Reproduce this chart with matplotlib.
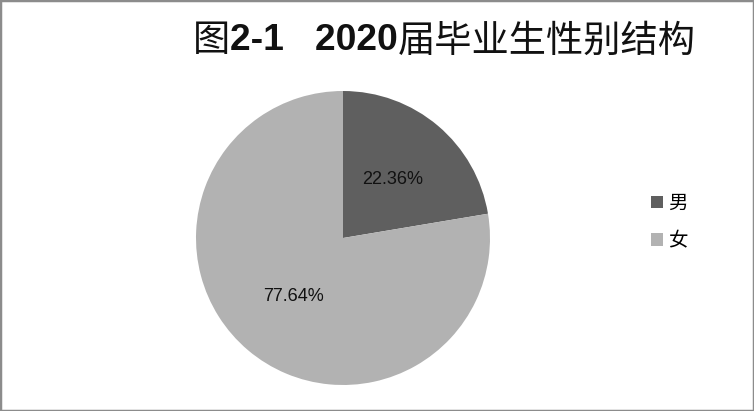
import matplotlib
matplotlib.use("Agg")
import matplotlib.pyplot as plt
from matplotlib.patches import Rectangle

categories = ["男", "女"]
values = [22.36, 77.64]
colors = ["#5f5f5f", "#b2b2b2"]
title_parts = ["图", "2-1   2020", "届毕业生性别结构"]

plt.rcParams['font.family'] = ['Noto Sans CJK SC', 'DejaVu Sans']

fig = plt.figure(figsize=(7.54, 4.11), dpi=100)
fig.patches.append(Rectangle((0, 0), 1, 1, transform=fig.transFigure,
                             fill=False, edgecolor="#8c8c8c", linewidth=2.5))

W, H = 754, 411
cx, cy, r = 343, 238, 147
ax = fig.add_axes([(cx - r) / W, (H - cy - r) / H, 2 * r / W, 2 * r / H])
wedges, texts, autotexts = ax.pie(
    values, colors=colors, startangle=90, counterclock=False,
    autopct=lambda p: f"{p:.2f}%", pctdistance=0.52,
    textprops=dict(fontsize=13, color="#111111", family=['Liberation Sans', 'DejaVu Sans']))
ax.set_xlim(-1, 1)
ax.set_ylim(-1, 1)
ax.set_aspect("equal")

# title in pieces: CJK normal, numbers bold
fs = 26.8
t0 = fig.text(193 / W, 1 - 41 / H, title_parts[0], fontsize=fs, va="center",
              ha="left", color="#111111")
t1 = ax.annotate(title_parts[1], xy=(1, 0.5), xycoords=t0, va="center", ha="left",
                 fontsize=fs, fontweight="bold", color="#111111",
                 family=['Liberation Sans', 'DejaVu Sans'], annotation_clip=False)
t2 = ax.annotate(title_parts[2], xy=(1, 0.5), xycoords=t1, va="center", ha="left",
                 fontsize=fs, color="#111111", annotation_clip=False)

leg = fig.legend(wedges, categories, loc="center left",
                 bbox_to_anchor=(633 / W, 1 - 222 / H), frameon=False,
                 fontsize=14, handlelength=0.62, handleheight=0.62,
                 labelspacing=0.85, handletextpad=0.3)

fig.savefig("out.png", dpi=100)
